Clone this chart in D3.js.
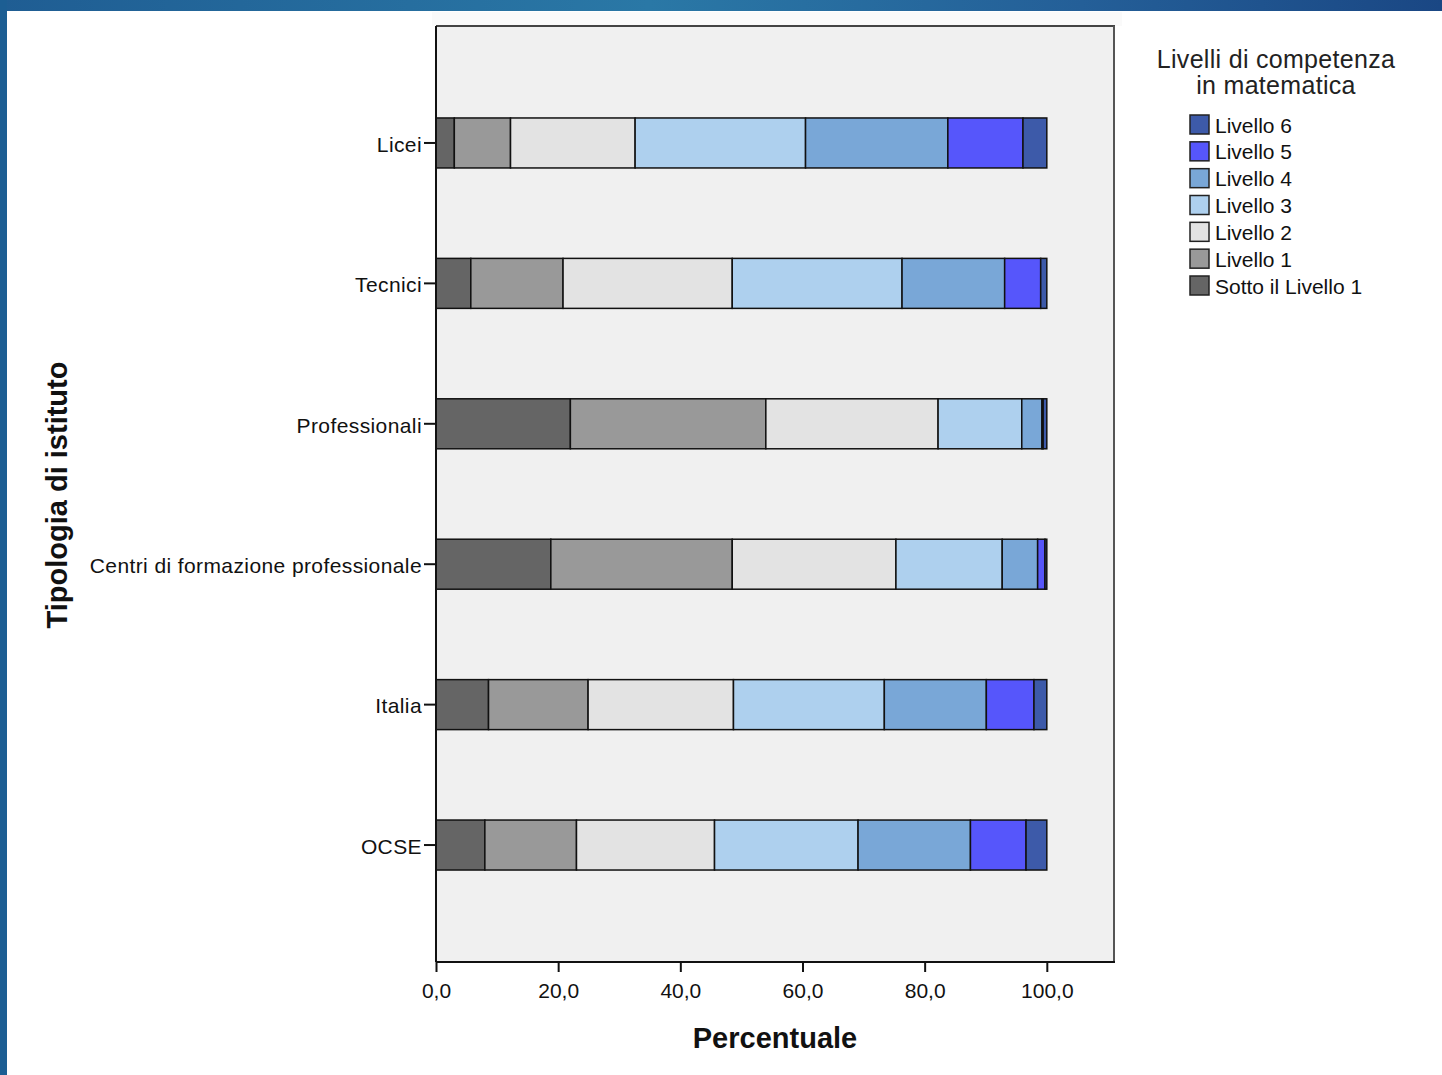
<!DOCTYPE html>
<html><head><meta charset="utf-8">
<script src="https://cdn.jsdelivr.net/npm/d3@7"></script>
<style>
html,body{margin:0;padding:0;background:#fff;}
svg{display:block;font-family:"Liberation Sans",Arial,sans-serif;}
</style></head>
<body>
<svg id="chart" width="1442" height="1075"></svg>
<script>
const categories = ["Licei","Tecnici","Professionali","Centri di formazione professionale","Italia","OCSE"];
const levels = ["Sotto il Livello 1","Livello 1","Livello 2","Livello 3","Livello 4","Livello 5","Livello 6"];
const colors = ["#656565","#999999","#e3e3e3","#aed0ee","#79a7d7","#5656fb","#3d5aa9"];
const sottoL1 = [3.0, 5.7, 22.0, 18.8, 8.6, 8.0];
const livello1 = [9.2, 15.1, 32.0, 29.7, 16.3, 15.0];
const livello2 = [20.4, 27.7, 28.2, 26.8, 23.8, 22.6];
const livello3 = [27.9, 27.8, 13.7, 17.4, 24.7, 23.5];
const livello4 = [23.3, 16.8, 3.3, 5.8, 16.7, 18.4];
const livello5 = [12.3, 5.9, 0.2, 1.2, 7.8, 9.1];
const livello6 = [3.9, 1.0, 0.6, 0.3, 2.1, 3.4];
const xTicks = [0, 20, 40, 60, 80, 100];
const xTickLabels = ["0,0","20,0","40,0","60,0","80,0","100,0"];

const series = [sottoL1, livello1, livello2, livello3, livello4, livello5, livello6];
const rows = categories.map((c, i) => {
  const r = {cat: c};
  levels.forEach((l, j) => r[l] = series[j][i]);
  return r;
});

const svg = d3.select("#chart");

// frame (blue bands)
const defs = svg.append("defs");
const grad = defs.append("linearGradient").attr("id","topg").attr("x1","0").attr("x2","1");
grad.append("stop").attr("offset","0").attr("stop-color","#1f5d93");
grad.append("stop").attr("offset","0.45").attr("stop-color","#2a78a6");
grad.append("stop").attr("offset","0.75").attr("stop-color","#245f98");
grad.append("stop").attr("offset","1").attr("stop-color","#1a4784");
svg.append("rect").attr("x",0).attr("y",0).attr("width",1442).attr("height",11).attr("fill","url(#topg)");
svg.append("rect").attr("x",0).attr("y",0).attr("width",7).attr("height",1075).attr("fill","#1c5e93");

const L = 436, R = 1114, T = 26, B = 962;
svg.append("rect").attr("x",432).attr("y",12).attr("width",690).attr("height",14).attr("fill","#fafafa");

const x = d3.scaleLinear().domain([0, 111]).range([L, R]);
const y = d3.scaleBand().domain(categories).range([T, B]).paddingInner(0.644).paddingOuter(0.655);

svg.append("rect").attr("x",L).attr("y",T).attr("width",R-L).attr("height",B-T)
  .attr("fill","#f0f0f0");

const stack = d3.stack().keys(levels);
const stacked = stack(rows);

const g = svg.append("g");
stacked.forEach((s, j) => {
  g.selectAll(null).data(s).enter().append("rect")
    .attr("x", d => x(d[0]))
    .attr("y", d => y(d.data.cat))
    .attr("width", d => x(d[1]) - x(d[0]))
    .attr("height", y.bandwidth())
    .attr("fill", colors[j])
    .attr("stroke", "#111")
    .attr("stroke-width", 1.5);
});

// plot border top/right
svg.append("line").attr("x1",L).attr("x2",R+1).attr("y1",T).attr("y2",T).attr("stroke","#444").attr("stroke-width",2);
svg.append("line").attr("x1",R).attr("x2",R).attr("y1",T).attr("y2",B).attr("stroke","#555").attr("stroke-width",2);

// x axis
const xAxis = d3.axisBottom(x).tickValues(xTicks).tickFormat((d,i) => xTickLabels[i]).tickSize(10).tickSizeOuter(0);
const xg = svg.append("g").attr("transform",`translate(0,${B})`).call(xAxis);
xg.select(".domain").attr("stroke","#111").attr("stroke-width",2).attr("d",`M${L},0H${R+1}`);
xg.selectAll(".tick line").attr("stroke","#111").attr("stroke-width",2);
xg.selectAll(".tick text").attr("font-size",21).attr("font-family","Liberation Sans, Arial, sans-serif").attr("fill","#111").attr("dy","1.1em");

// y axis
const yAxis = d3.axisLeft(y).tickSize(12).tickSizeOuter(0);
const yg = svg.append("g").attr("transform",`translate(${L},0)`).call(yAxis);
yg.select(".domain").attr("stroke","#111").attr("stroke-width",2).attr("d",`M0,${T}V${B}`);
yg.selectAll(".tick line").attr("stroke","#111").attr("stroke-width",2);
yg.selectAll(".tick text").attr("font-size",21).attr("letter-spacing","0.4px").attr("font-family","Liberation Sans, Arial, sans-serif").attr("fill","#111").attr("x",-14).attr("dy","0.42em");

// axis titles
svg.append("text").attr("x",775).attr("y",1048).attr("text-anchor","middle")
  .attr("font-size",29).attr("font-weight","bold").attr("fill","#111").text("Percentuale");
svg.append("text").attr("transform","translate(67,495) rotate(-90)").attr("text-anchor","middle")
  .attr("font-size",29).attr("font-weight","bold").attr("fill","#111").text("Tipologia di istituto");

// legend
const lg = svg.append("g");
lg.append("text").attr("x",1276).attr("y",68).attr("text-anchor","middle").attr("font-size",25).attr("letter-spacing","0.3px").attr("fill","#222").text("Livelli di competenza");
lg.append("text").attr("x",1276).attr("y",94).attr("text-anchor","middle").attr("font-size",25).attr("letter-spacing","0.3px").attr("fill","#222").text("in matematica");
const legendOrder = levels.slice().reverse();
const legendColors = colors.slice().reverse();
const ly = d3.scalePoint().domain(legendOrder).range([125, 286]);
legendOrder.forEach((l, i) => {
  lg.append("rect").attr("x",1190).attr("y",ly(l)-10).attr("width",19).attr("height",19)
    .attr("fill",legendColors[i]).attr("stroke","#222").attr("stroke-width",1.5);
  lg.append("text").attr("x",1215).attr("y",ly(l)).attr("dy","0.36em").attr("font-size",21).attr("fill","#111").text(l);
});
</script>
</body></html>
